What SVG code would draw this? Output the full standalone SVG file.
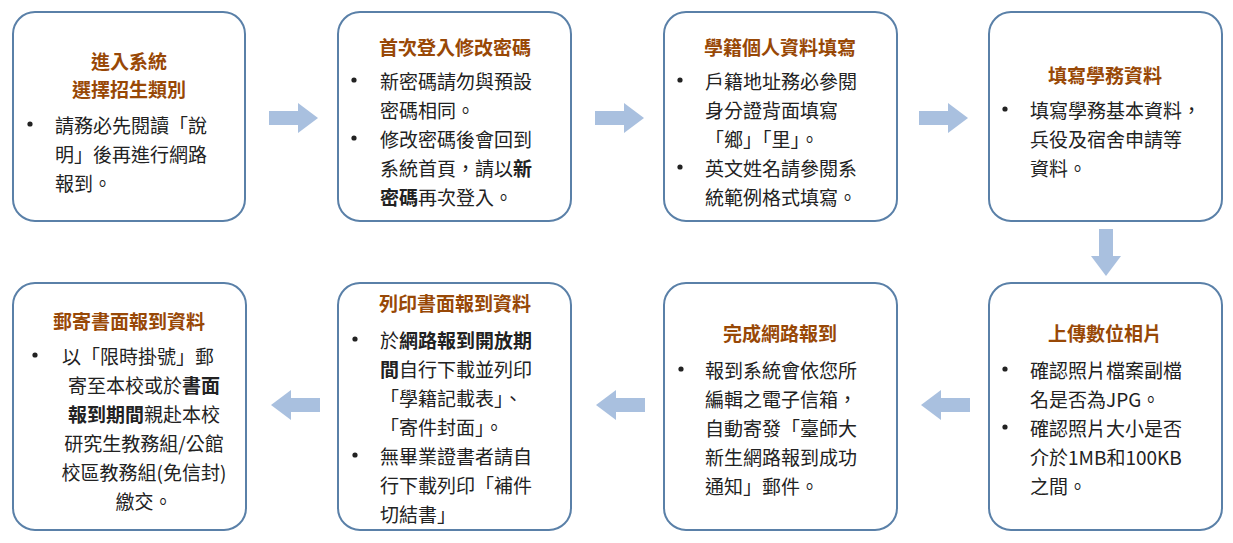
<svg xmlns="http://www.w3.org/2000/svg" width="1233" height="543" viewBox="0 0 1233 543">
<style>
.box{fill:#fff;stroke:#5a80a8;stroke-width:2}
text{font-family:"Noto Sans CJK TC","Noto Sans CJK SC",sans-serif;font-size:19px;fill:#222;dominant-baseline:central}
.t{font-weight:bold;fill:#984806;font-size:19px;text-anchor:middle}
.c{text-anchor:middle}
.b{font-weight:bold}
.d{fill:#222}
.arr{fill:#a9c0df}
</style>
<defs><circle id="dot" r="2.6" class="d"/></defs>
<rect width="1233" height="543" fill="#fff"/>
<g id="connectors">
<polygon class="arr" points="269,111 298,111 298,103 318,118 298,133 298,125 269,125"/>
<polygon class="arr" points="595,111 624,111 624,103 644,118 624,133 624,125 595,125"/>
<polygon class="arr" points="919,111 948,111 948,103 968,118 948,133 948,125 919,125"/>
<polygon class="arr" points="1099,229 1113,229 1113,256 1121,256 1106,276 1091,256 1099,256"/>
<polygon class="arr" points="970,398 941,398 941,390 921,405 941,420 941,412 970,412"/>
<polygon class="arr" points="645,398 616,398 616,390 596,405 616,420 616,412 645,412"/>
<polygon class="arr" points="320,398 291,398 291,390 271,405 291,420 291,412 320,412"/>
</g>
<g id="n1"><rect class="box" x="13" y="12" width="232" height="209" rx="22"/>
<text class="t" x="129" y="60">進入系統</text><text class="t" x="129" y="88">選擇招生類別</text>
<use href="#dot" x="30" y="124"/><text x="55" y="124">請務必先閱讀「說</text><text x="55" y="153">明」後再進行網路</text><text x="55" y="182">報到。</text></g>
<g id="n2"><rect class="box" x="338" y="12" width="233" height="209" rx="22"/>
<text class="t" x="455" y="46">首次登入修改密碼</text>
<use href="#dot" x="354" y="80"/><text x="380" y="80">新密碼請勿與預設</text><text x="380" y="109">密碼相同。</text>
<use href="#dot" x="354" y="138"/><text x="380" y="138">修改密碼後會回到</text><text x="380" y="167">系統首頁，請以<tspan class="b">新</tspan></text><text x="380" y="196"><tspan class="b">密碼</tspan>再次登入。</text></g>
<g id="n3"><rect class="box" x="664" y="12" width="233" height="209" rx="22"/>
<text class="t" x="780" y="46">學籍個人資料填寫</text>
<use href="#dot" x="680" y="80"/><text x="705" y="80">戶籍地址務必參閱</text><text x="705" y="109">身分證背面填寫</text><text x="705" y="138">「鄉」「里」。</text>
<use href="#dot" x="680" y="167"/><text x="705" y="167">英文姓名請參閱系</text><text x="705" y="196">統範例格式填寫。</text></g>
<g id="n4"><rect class="box" x="989" y="12" width="233" height="209" rx="22"/>
<text class="t" x="1105" y="74">填寫學務資料</text>
<use href="#dot" x="1005" y="109"/><text x="1030" y="109">填寫學務基本資料，</text><text x="1030" y="138">兵役及宿舍申請等</text><text x="1030" y="167">資料。</text></g>
<g id="n5"><rect class="box" x="989" y="283" width="233" height="247" rx="22"/>
<text class="t" x="1105" y="332">上傳數位相片</text>
<use href="#dot" x="1005" y="369"/><text x="1030" y="369">確認照片檔案副檔</text><text x="1030" y="398">名是否為JPG。</text>
<use href="#dot" x="1005" y="427"/><text x="1030" y="427">確認照片大小是否</text><text x="1030" y="456">介於1MB和100KB</text><text x="1030" y="485">之間。</text></g>
<g id="n6"><rect class="box" x="664" y="283" width="233" height="247" rx="22"/>
<text class="t" x="780" y="332">完成網路報到</text>
<use href="#dot" x="681" y="369"/><text x="705" y="369">報到系統會依您所</text><text x="705" y="398">編輯之電子信箱，</text><text x="705" y="427">自動寄發「臺師大</text><text x="705" y="456">新生網路報到成功</text><text x="705" y="485">通知」郵件。</text></g>
<g id="n7"><rect class="box" x="338" y="283" width="233" height="247" rx="22"/>
<text class="t" x="455" y="302">列印書面報到資料</text>
<use href="#dot" x="355" y="339"/><text x="380" y="339">於<tspan class="b">網路報到開放期</tspan></text><text x="380" y="368"><tspan class="b">間</tspan>自行下載並列印</text><text x="380" y="397">「學籍記載表」、</text><text x="380" y="426">「寄件封面」。</text>
<use href="#dot" x="355" y="455"/><text x="380" y="455">無畢業證書者請自</text><text x="380" y="484">行下載列印「補件</text><text x="380" y="513">切結書」</text></g>
<g id="n8"><rect class="box" x="13" y="283" width="233" height="247" rx="22"/>
<text class="t" x="129" y="320">郵寄書面報到資料</text>
<use href="#dot" x="35" y="355"/><text x="62" y="355">以「限時掛號」郵</text><text class="c" x="144" y="384">寄至本校或於<tspan class="b">書面</tspan></text><text class="c" x="144" y="413"><tspan class="b">報到期間</tspan>親赴本校</text><text class="c" x="144" y="442">研究生教務組/公館</text><text class="c" x="144" y="471">校區教務組(免信封)</text><text class="c" x="144" y="500">繳交。</text></g>
</svg>
